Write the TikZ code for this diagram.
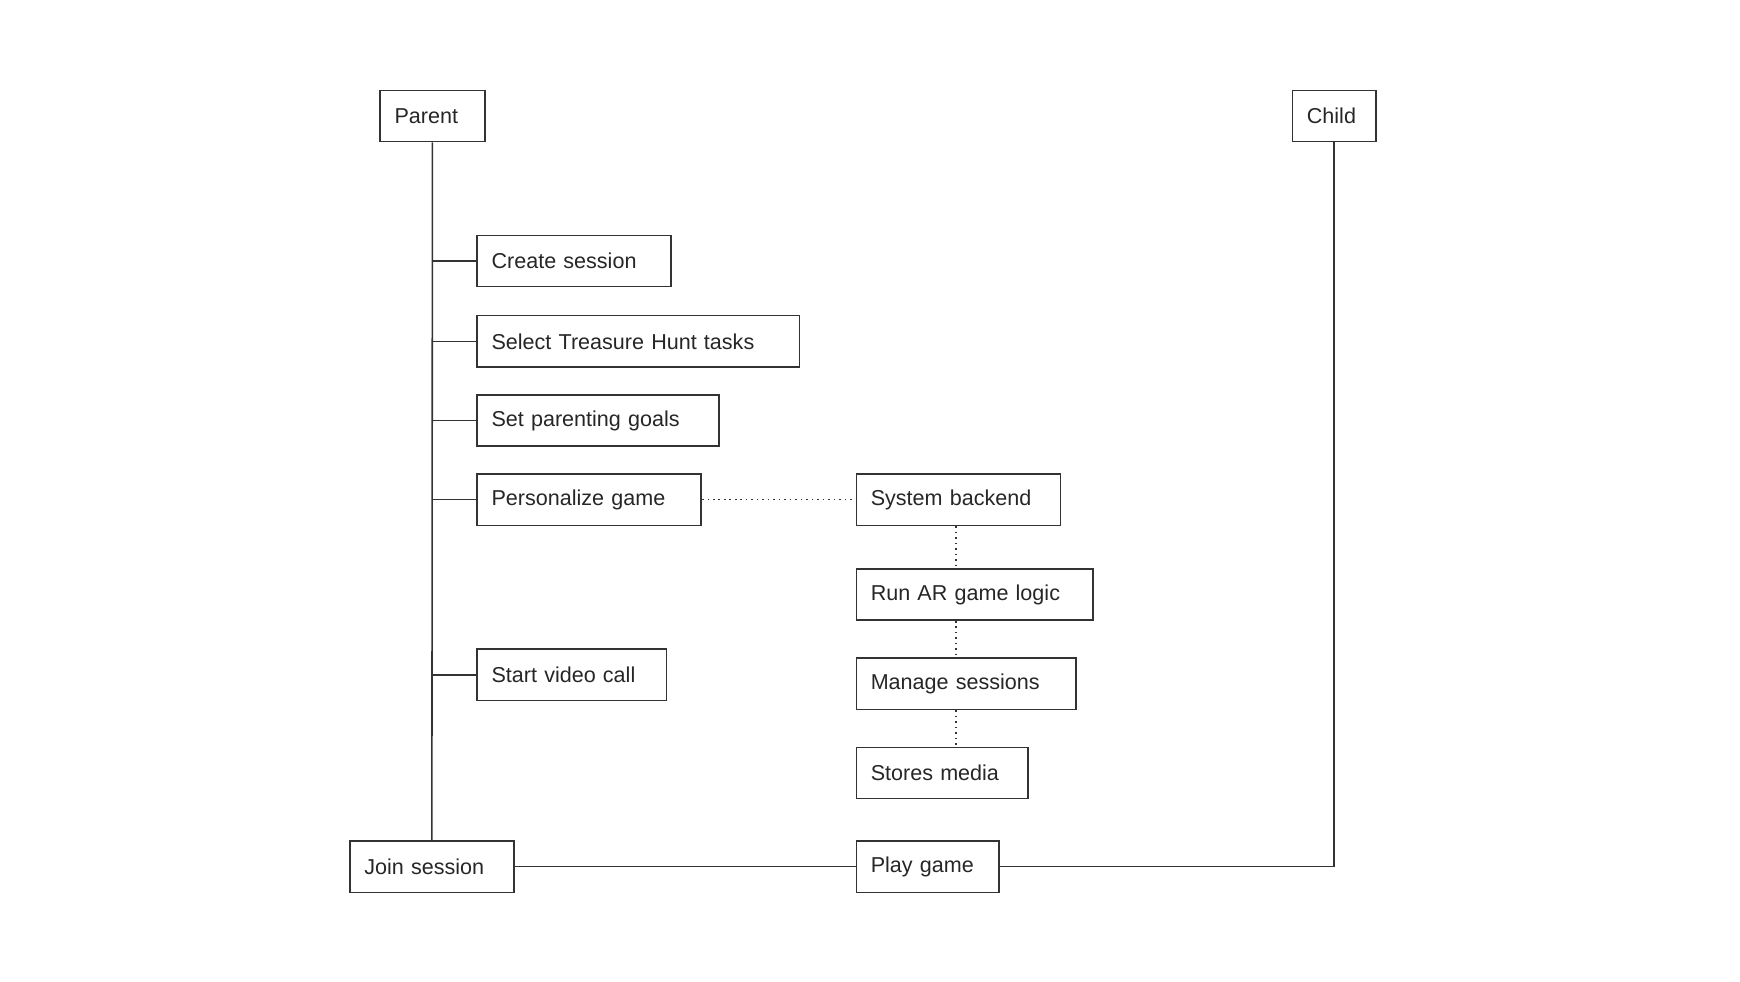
\documentclass[tikz,border=0pt]{standalone}
\usepackage{fontspec}
\setmainfont{Liberation Sans}
\begin{document}
\begin{tikzpicture}[
    x=0.02cm,y=-0.02cm,
    step box/.style={draw=black!80,thick,anchor=west,minimum height=0.92cm,inner xsep=0.26cm,
      align=left,text width=#1*0.02cm-0.52cm,font=\fontsize{11}{13}\selectfont,text=black!85},
    lifeline/.style={thick,draw=black!80},
    link/.style={thick,draw=black!80,dotted},
  ]
  \useasboundingbox (0,0) rectangle (1560,880);

  % actors
  \node[step box=94] (parent) at (340,104) {Parent};
  \node[step box=75] (child) at (1158,104) {Child};

  % parent tasks
  \node[step box=174] (create) at (427,234) {Create session};
  \node[step box=289] (select) at (427,306) {Select Treasure Hunt tasks};
  \node[step box=217] (goals) at (427,377) {Set parenting goals};
  \node[step box=201] (personalize) at (427,448) {Personalize game};
  \node[step box=170] (video) at (427,605) {Start video call};

  % backend
  \node[step box=183] (backend) at (767,448) {System backend};
  \node[step box=212] (logic) at (767,533) {Run AR game logic};
  \node[step box=197] (manage) at (767,613) {Manage sessions};
  \node[step box=154] (media) at (767,693) {Stores media};

  % bottom row
  \node[step box=147] (join) at (313,777) {Join session};
  \node[step box=128] (play) at (767,777) {Play game};

  \draw[lifeline] (parent.south) -- (join.north);
  \foreach \t in {create,select,goals,personalize,video} {
    \draw[lifeline] (\t.west) -- (\t.west -| parent.south);
  }
  \coordinate (corner) at (child.south |- play.east);
  \draw[lifeline] (child.south) -- (corner) -- (play.east);
  \draw[lifeline] (join.east) -- (play.west);

  \draw[link] (personalize.east) -- (backend.west);
  \draw[link] (backend.south) ++(-2,0) coordinate (b1) -- (b1 |- logic.north);
  \draw[link] (b1 |- logic.south) -- (b1 |- manage.north);
  \draw[link] (b1 |- manage.south) -- (b1 |- media.north);
\end{tikzpicture}
\end{document}
